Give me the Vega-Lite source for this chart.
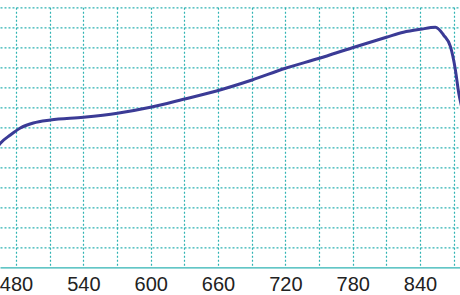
{
  "$schema": "https://vega.github.io/schema/vega-lite/v6.json",
  "width": 460,
  "height": 260,
  "autosize": {"type": "none"},
  "padding": {"left": 0, "top": 7.3, "right": 0, "bottom": 27.7},
  "background": "white",
  "config": {"view": {"stroke": null}},
  "data": {
    "values": [
      {"x": 461.6, "y": 5.865},
      {"x": 466.0, "y": 6.2},
      {"x": 474.9, "y": 6.615},
      {"x": 483.8, "y": 6.965},
      {"x": 495.4, "y": 7.215},
      {"x": 510.6, "y": 7.365},
      {"x": 540.0, "y": 7.5},
      {"x": 570.3, "y": 7.7},
      {"x": 599.7, "y": 8.0},
      {"x": 629.1, "y": 8.4},
      {"x": 659.4, "y": 8.83},
      {"x": 690.3, "y": 9.365},
      {"x": 720.0, "y": 9.95},
      {"x": 750.3, "y": 10.45},
      {"x": 779.7, "y": 10.98},
      {"x": 810.0, "y": 11.5},
      {"x": 825.2, "y": 11.75},
      {"x": 840.3, "y": 11.9},
      {"x": 853.7, "y": 12.0},
      {"x": 861.1, "y": 11.6},
      {"x": 867.1, "y": 11.03},
      {"x": 871.5, "y": 9.87},
      {"x": 874.5, "y": 8.7},
      {"x": 877.8, "y": 7.87}
    ]
  },
  "mark": {"type": "line", "interpolate": "monotone", "color": "#3b3b96", "strokeWidth": 3, "clip": true},
  "encoding": {
    "x": {
      "field": "x",
      "type": "quantitative",
      "scale": {"domain": [465.7, 875.6], "nice": false, "zero": false},
      "axis": {
        "title": null,
        "values": [480, 510, 540, 570, 600, 630, 660, 690, 720, 750, 780, 810, 840, 870],
        "labelExpr": "datum.value % 60 == 0 ? datum.label : ''",
        "grid": true,
        "gridColor": "#2fb3b3",
        "gridDash": [2, 2],
        "gridWidth": 1.2,
        "gridOpacity": 1,
        "ticks": false,
        "domain": true,
        "domainColor": "#2fb3b3",
        "domainWidth": 1.2,
        "labelFont": "Liberation Sans",
        "labelFontSize": 20,
        "labelColor": "#222222",
        "labelPadding": 7,
        "labelFlush": false,
        "labelOverlap": false
      }
    },
    "y": {
      "field": "y",
      "type": "quantitative",
      "scale": {"domain": [0, 13], "nice": false, "zero": false},
      "axis": {
        "title": null,
        "values": [1, 2, 3, 4, 5, 6, 7, 8, 9, 10, 11, 12, 13],
        "labels": false,
        "ticks": false,
        "domain": false,
        "grid": true,
        "gridColor": "#2fb3b3",
        "gridDash": [2, 2],
        "gridWidth": 1.2,
        "gridOpacity": 1
      }
    }
  }
}
